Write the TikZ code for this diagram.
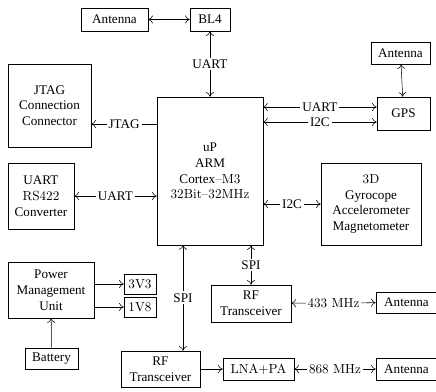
\documentclass[tikz,border=0pt]{standalone}
\usepackage{fontspec}
\setmainfont{Liberation Serif}
\newfontfamily\lmr[Ligatures=TeX]{lmroman10-regular.otf}
\usetikzlibrary{positioning, calc, arrows.meta}

\tikzset{
    box/.style 2 args={draw, align=center, inner sep=1pt,
        minimum width=#1*0.76pt, minimum height=#2*0.76pt},
    lbl/.style={fill=white, inner sep=1.5pt},
}

\begin{document}
\begin{tikzpicture}[x=0.76pt, y=-0.76pt,
    >={Computer Modern Rightarrow[length=3.5pt, width=6pt]}]
    \useasboundingbox (0,0) rectangle (436,391);

    % Blocks
    \node[box={67}{23}] (ant1) at (114.5,19.5) {Antenna};
    \node[box={40}{23}] (bl4) at (210,19.5) {BL4};
    \node[box={83}{83}] (jtag) at (49.5,105.5) {JTAG\\Connection\\Connector};
    \node[box={106}{148}] (up) at (210,171)
        {uP\\ARM\\Cortex{\lmr--M3}\\{\lmr 32Bit--32MHz}};
    \node[box={66}{66}] (rs) at (41,196) {UART\\{\lmr RS422}\\Converter};
    \node[box={59}{22}] (ant2) at (400.5,53) {Antenna};
    \node[box={53}{33}] (gps) at (403.5,113.5) {GPS};
    \node[box={100}{82}] (imu) at (371,204)
        {{\lmr 3D}\\Gyrocope\\Accelerometer\\Magnetometer};
    \node[box={86}{56}] (pmu) at (51,290) {Power\\Management\\Unit};
    \node[box={32}{20}] (v33) at (140,284) {\lmr 3V3};
    \node[box={32}{20}] (v18) at (140,307) {\lmr 1V8};
    \node[box={53}{21}] (bat) at (51.5,358.5) {Battery};
    \node[box={80}{37}] (rf1) at (251,303.5) {RF\\Transceiver};
    \node[box={79}{36}] (rf2) at (160.5,369) {RF\\Transceiver};
    \node[box={71}{22}] (lna) at (258.5,369) {\lmr LNA+PA};
    \node[box={61}{21}] (ant3) at (406.5,302.5) {Antenna};
    \node[box={61}{22}] (ant4) at (406.5,369) {Antenna};

    % Links
    \coordinate (jt) at (157,124);
    \coordinate (gu) at (263,107);
    \coordinate (gi) at (263,122);
    \coordinate (s1) at (183,245);

    \draw[<->] (ant1) -- (bl4);
    \draw[<->] (bl4) -- node[lbl] {UART} (up);
    \draw[->] (jt) -- node[lbl] {JTAG} (jt -| jtag.east);
    \draw[<->] (rs) -- node[lbl] {UART} (rs -| up.west);
    \draw[<->] (gu) -- node[lbl] {UART} (gu -| gps.west);
    \draw[<->] (gi) -- node[lbl] {I2C} (gi -| gps.west);
    \draw[<->] (ant2) -- (gps);
    \draw[<->] (imu -| up.east) -- node[lbl] {I2C} (imu);
    \draw[<->] (s1) -- node[lbl] {SPI} (s1 |- rf2.north);
    \draw[<->] (rf1 |- up.south) -- node[lbl] {SPI} (rf1);
    \draw[<->] (rf1) -- node[lbl] {\lmr 433 MHz} (ant3);
    \draw[->] (rf2) -- (lna);
    \draw[<->] (lna) -- node[lbl] {\lmr 868 MHz} (ant4);
    \draw[->] (pmu.east |- v33) -- (v33);
    \draw[->] (pmu.east |- v18) -- (v18);
    \draw[->] (bat) -- (pmu);
\end{tikzpicture}
\end{document}
